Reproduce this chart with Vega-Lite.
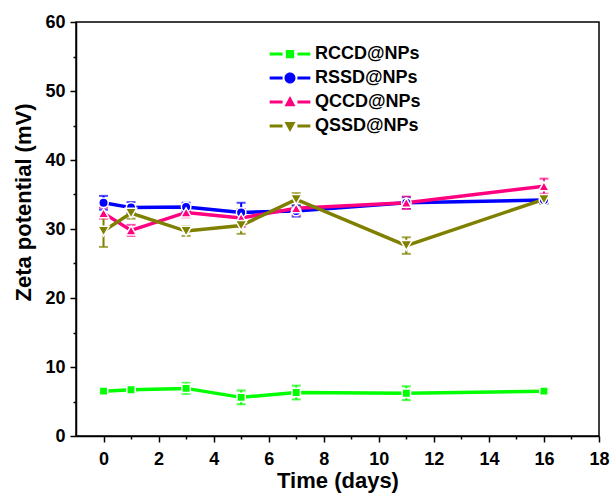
{
  "$schema": "https://vega.github.io/schema/vega-lite/v6.json",
  "width": 523,
  "height": 414,
  "autosize": {"type": "none"},
  "padding": {"left": 76, "top": 22, "right": 13, "bottom": 61},
  "background": "white",
  "config": {
    "font": "Liberation Sans",
    "view": {"stroke": "black", "strokeWidth": 1.5},
    "axis": {
      "domainColor": "black",
      "domainWidth": 1.5,
      "tickColor": "black",
      "tickWidth": 1.5,
      "grid": false,
      "labelFont": "Liberation Sans",
      "labelFontWeight": "bold",
      "labelFontSize": 18,
      "labelColor": "black",
      "titleFont": "Liberation Sans",
      "titleFontWeight": "bold",
      "titleFontSize": 22,
      "titleColor": "black"
    }
  },
  "data": {
    "values": [
      {"series": "RCCD@NPs", "day": 0, "zeta": 6.5, "err": 0.2},
      {"series": "RCCD@NPs", "day": 1, "zeta": 6.7, "err": 0.4},
      {"series": "RCCD@NPs", "day": 3, "zeta": 6.9, "err": 0.8},
      {"series": "RCCD@NPs", "day": 5, "zeta": 5.6, "err": 1.0},
      {"series": "RCCD@NPs", "day": 7, "zeta": 6.3, "err": 1.0},
      {"series": "RCCD@NPs", "day": 11, "zeta": 6.2, "err": 1.0},
      {"series": "RCCD@NPs", "day": 16, "zeta": 6.5, "err": 0.3},
      {"series": "RSSD@NPs", "day": 0, "zeta": 33.8, "err": 1.0},
      {"series": "RSSD@NPs", "day": 1, "zeta": 33.1, "err": 0.8},
      {"series": "RSSD@NPs", "day": 3, "zeta": 33.2, "err": 0.6},
      {"series": "RSSD@NPs", "day": 5, "zeta": 32.4, "err": 1.4},
      {"series": "RSSD@NPs", "day": 7, "zeta": 32.6, "err": 0.8},
      {"series": "RSSD@NPs", "day": 11, "zeta": 33.8, "err": 0.8},
      {"series": "RSSD@NPs", "day": 16, "zeta": 34.2, "err": 0.5},
      {"series": "QCCD@NPs", "day": 0, "zeta": 32.3, "err": 0.8},
      {"series": "QCCD@NPs", "day": 1, "zeta": 29.8, "err": 0.8},
      {"series": "QCCD@NPs", "day": 3, "zeta": 32.4, "err": 0.7},
      {"series": "QCCD@NPs", "day": 5, "zeta": 31.6, "err": 1.3},
      {"series": "QCCD@NPs", "day": 7, "zeta": 33.0, "err": 1.0},
      {"series": "QCCD@NPs", "day": 11, "zeta": 33.8, "err": 0.9},
      {"series": "QCCD@NPs", "day": 16, "zeta": 36.2, "err": 1.1},
      {"series": "QSSD@NPs", "day": 0, "zeta": 29.7, "err": 2.3},
      {"series": "QSSD@NPs", "day": 1, "zeta": 32.3, "err": 0.8},
      {"series": "QSSD@NPs", "day": 3, "zeta": 29.7, "err": 0.7},
      {"series": "QSSD@NPs", "day": 5, "zeta": 30.5, "err": 1.2},
      {"series": "QSSD@NPs", "day": 7, "zeta": 34.3, "err": 0.9},
      {"series": "QSSD@NPs", "day": 11, "zeta": 27.6, "err": 1.2},
      {"series": "QSSD@NPs", "day": 16, "zeta": 34.3, "err": 0.6}
    ]
  },
  "encoding": {
    "x": {
      "field": "day",
      "type": "quantitative",
      "title": "Time (days)",
      "scale": {"domain": [-1, 18], "nice": false, "zero": false},
      "axis": {
        "values": [0, 1, 2, 3, 4, 5, 6, 7, 8, 9, 10, 11, 12, 13, 14, 15, 16, 17, 18],
        "labelExpr": "datum.value % 2 === 0 ? datum.label : ''",
        "tickSize": {"condition": {"test": "datum.value % 2 === 0", "value": 6}, "value": 3},
        "labelPadding": 8,
        "titlePadding": 2,
        "labelFlush": false,
        "labelOverlap": false
      }
    },
    "y": {
      "field": "zeta",
      "type": "quantitative",
      "title": "Zeta potential (mV)",
      "scale": {"domain": [0, 60], "nice": false},
      "axis": {
        "values": [0, 5, 10, 15, 20, 25, 30, 35, 40, 45, 50, 55, 60],
        "labelExpr": "datum.value % 10 === 0 ? datum.label : ''",
        "tickSize": {"condition": {"test": "datum.value % 10 === 0", "value": 6}, "value": 3},
        "labelPadding": 5,
        "titlePadding": 9,
        "titleY": 180,
        "labelFlush": false,
        "labelOverlap": false
      }
    }
  },
  "resolve": {"scale": {"shape": "independent", "color": "independent"}},
  "layer": [
    {
      "mark": {"type": "errorbar", "ticks": true, "size": 9, "thickness": 2},
      "encoding": {
        "y": {"field": "zeta", "type": "quantitative"},
        "yError": {"field": "err"},
        "color": {
          "field": "series",
          "type": "nominal",
          "scale": {
            "domain": ["RCCD@NPs", "RSSD@NPs", "QCCD@NPs", "QSSD@NPs"],
            "range": ["#00ff00", "#0000ff", "#ff0080", "#808000"]
          },
          "legend": null
        }
      }
    },
    {
      "mark": {"type": "line", "strokeWidth": 3.5},
      "encoding": {
        "color": {
          "field": "series",
          "type": "nominal",
          "scale": {
            "domain": ["RCCD@NPs", "RSSD@NPs", "QCCD@NPs", "QSSD@NPs"],
            "range": ["#00ff00", "#0000ff", "#ff0080", "#808000"]
          },
          "legend": null
        }
      }
    },
    {
      "mark": {"type": "point", "filled": true, "opacity": 1, "stroke": "white", "strokeWidth": 1.5},
      "encoding": {
        "color": {
          "field": "series",
          "type": "nominal",
          "scale": {
            "domain": ["RCCD@NPs", "RSSD@NPs", "QCCD@NPs", "QSSD@NPs"],
            "range": ["#00ff00", "#0000ff", "#ff0080", "#808000"]
          },
          "legend": null
        },
        "shape": {
          "field": "series",
          "type": "nominal",
          "scale": {
            "domain": ["RCCD@NPs", "RSSD@NPs", "QCCD@NPs", "QSSD@NPs"],
            "range": ["square", "circle", "triangle-up", "triangle-down"]
          },
          "legend": null
        },
        "size": {
          "field": "series",
          "type": "ordinal",
          "scale": {
            "domain": ["RCCD@NPs", "RSSD@NPs", "QCCD@NPs", "QSSD@NPs"],
            "range": [70, 130, 140, 140]
          },
          "legend": null
        }
      }
    },
    {
      "mark": {"type": "point", "filled": true, "opacity": 0, "size": 121},
      "encoding": {
        "color": {
          "field": "series",
          "type": "nominal",
          "scale": {
            "domain": ["RCCD@NPs", "RSSD@NPs", "QCCD@NPs", "QSSD@NPs"],
            "range": ["#00ff00", "#0000ff", "#ff0080", "#808000"]
          },
          "legend": {
            "title": null,
            "orient": "none",
            "legendX": 205,
            "legendY": 23,
            "labelFont": "Liberation Sans",
            "labelFontWeight": "bold",
            "labelFontSize": 18,
            "labelColor": "black",
            "labelOffset": 16,
            "rowPadding": 6,
            "symbolSize": 121,
            "symbolOpacity": 1,
            "symbolStrokeWidth": 0,
            "padding": 0
          }
        },
        "shape": {
          "field": "series",
          "type": "nominal",
          "scale": {
            "domain": ["RCCD@NPs", "RSSD@NPs", "QCCD@NPs", "QSSD@NPs"],
            "range": [
              "M-0.75,-0.75H0.75V0.75H-0.75Z M-3.7,-0.27H-1.35V0.27H-3.7Z M1.35,-0.27H3.7V0.27H1.35Z",
              "M-1,0A1,1 0 1,0 1,0A1,1 0 1,0 -1,0Z M-3.7,-0.27H-1.35V0.27H-3.7Z M1.35,-0.27H3.7V0.27H1.35Z",
              "M0,-1.1L1,0.75H-1Z M-3.7,-0.27H-1.35V0.27H-3.7Z M1.35,-0.27H3.7V0.27H1.35Z",
              "M0,1.1L1,-0.75H-1Z M-3.7,-0.27H-1.35V0.27H-3.7Z M1.35,-0.27H3.7V0.27H1.35Z"
            ]
          },
          "legend": {
            "title": null,
            "orient": "none",
            "legendX": 205,
            "legendY": 23,
            "labelFont": "Liberation Sans",
            "labelFontWeight": "bold",
            "labelFontSize": 18,
            "labelColor": "black",
            "labelOffset": 16,
            "rowPadding": 6,
            "symbolSize": 121,
            "symbolOpacity": 1,
            "symbolStrokeWidth": 0,
            "padding": 0
          }
        }
      }
    }
  ]
}
